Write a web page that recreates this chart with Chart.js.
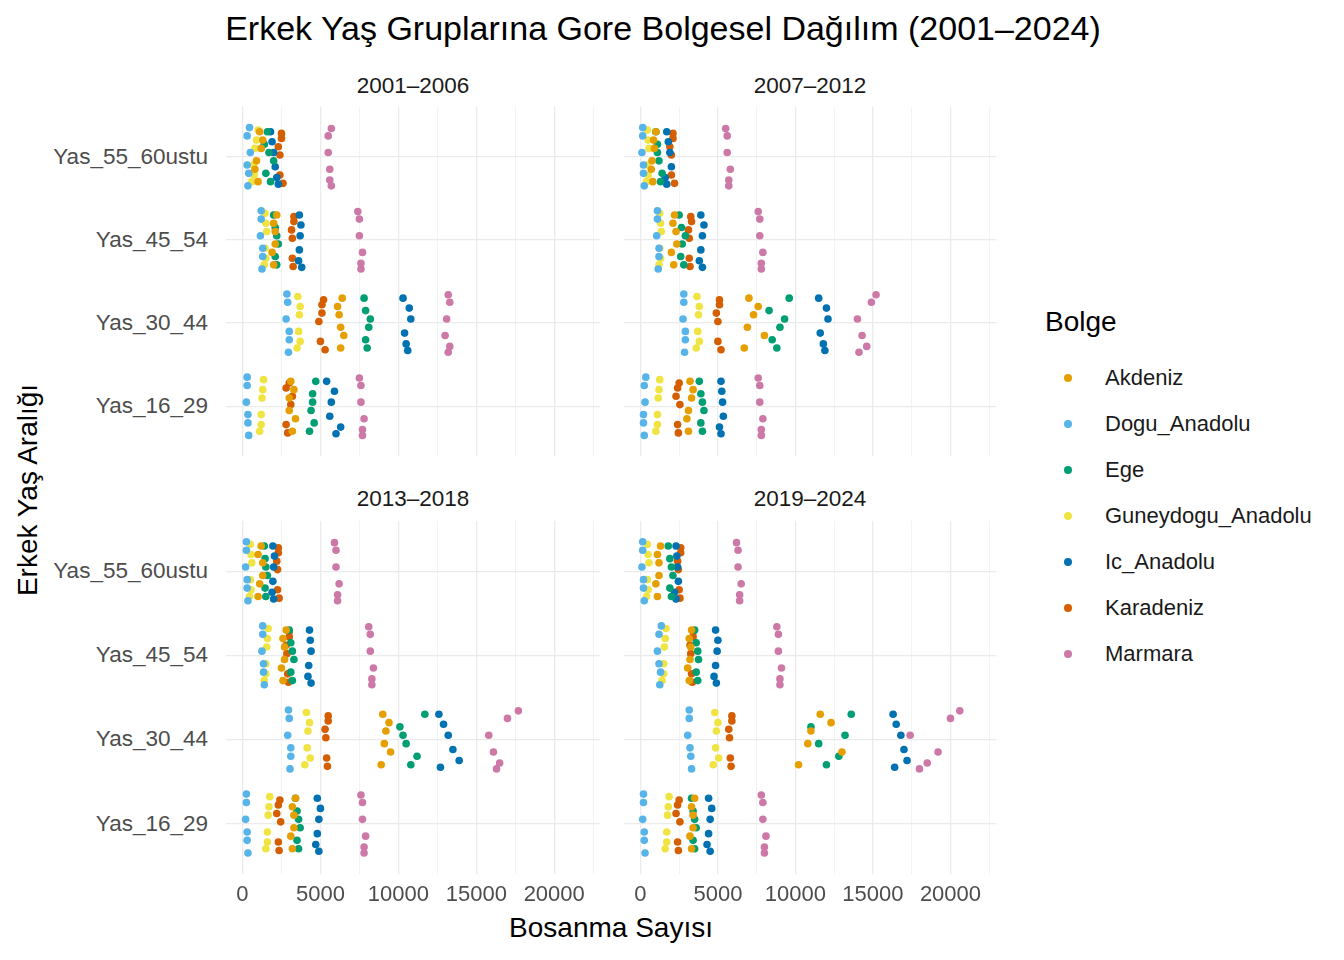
<!DOCTYPE html>
<html>
<head>
<meta charset="utf-8">
<script src="https://cdn.jsdelivr.net/npm/chart.js@4.4.1/dist/chart.umd.min.js"></script>
<style>
  body { margin: 0; width: 1344px; height: 960px; background: #fff; font-family: Arial, "Liberation Sans", sans-serif; position: relative; overflow: hidden; }
  .abs { position: absolute; }
  canvas { position: absolute; }
  #title { left: 0; width: 1326px; top: 9px; text-align: center; font-size: 34px; color: #000; }
  .strip { font-size: 22.5px; color: #1a1a1a; text-align: center; }
  .ylab { left: 0; width: 208px; text-align: right; font-size: 22.5px; color: #4D4D4D; transform: translateY(-50%); }
  #ytitle { left: 28px; top: 490px; font-size: 28px; transform: translate(-50%, -50%) rotate(-90deg); white-space: nowrap; }
  #xtitle { left: 222px; width: 778px; top: 912px; text-align: center; font-size: 28px; }
  #legend { left: 1045px; top: 306px; }
  #legend .lt { font-size: 28px; margin-bottom: 17px; }
  #legend .it { height: 46px; display: flex; align-items: center; font-size: 22px; color: #1a1a1a; }
  #legend .dot { width: 8px; height: 8px; border-radius: 50%; margin: 0 33px 0 19px; }
</style>
</head>
<body>
<div id="title" class="abs">Erkek Yaş Gruplarına Gore Bolgesel Dağılım (2001–2024)</div>
<div class="abs strip" style="left:222px;width:382px;top:73px">2001–2006</div>
<div class="abs strip" style="left:620px;width:380px;top:73px">2007–2012</div>
<div class="abs strip" style="left:222px;width:382px;top:486px">2013–2018</div>
<div class="abs strip" style="left:620px;width:380px;top:486px">2019–2024</div>
<div id="ytitle" class="abs">Erkek Yaş Aralığı</div>
<div id="xtitle" class="abs">Bosanma Sayısı</div>
<div id="legend" class="abs"></div>
<div id="ylabels"></div>

<canvas id="c1"></canvas>
<canvas id="c2"></canvas>
<canvas id="c3"></canvas>
<canvas id="c4"></canvas>

<script>
const regions = ['Akdeniz', 'Dogu_Anadolu', 'Ege', 'Guneydogu_Anadolu', 'Ic_Anadolu', 'Karadeniz', 'Marmara'];
const colors = ['#E69F00', '#56B4E9', '#009E73', '#F0E442', '#0072B2', '#D55E00', '#CC79A7'];
const ageGroups = ['Yas_16_29', 'Yas_30_44', 'Yas_45_54', 'Yas_55_60ustu'];
const panelTitles = ['2001–2006', '2007–2012', '2013–2018', '2019–2024'];

// jitter (vertical offsets) per region, one per year in the period
const jitter = [
  [-0.30, 0.10, -0.15, 0.30, 0.20, -0.05],
  [0.25, -0.20, 0.05, -0.35, 0.35, -0.10],
  [0.15, -0.30, 0.30, -0.05, -0.20, 0.05],
  [-0.10, 0.20, -0.30, 0.10, 0.32, -0.22],
  [0.30, 0.05, -0.25, 0.18, -0.12, -0.33],
  [-0.22, 0.28, 0.12, -0.32, 0.02, 0.22],
  [0.05, -0.28, 0.34, -0.15, 0.25, -0.35]
];

// values per region: [Yas_16_29, Yas_30_44, Yas_45_54, Yas_55_60ustu], 6 years each
const p2001 = [
  [[3200, 3000, 3400, 3100, 3300, 3000], [6300, 6200, 6500, 6400, 6100, 6300], [2000, 2100, 1900, 2200, 2000, 2100], [1000, 1200, 800, 1100, 1300, 900]],
  [[300, 350, 250, 400, 300, 350], [2900, 3000, 2800, 2950, 2850, 3000], [1200, 1300, 1150, 1250, 1200, 1300], [300, 400, 500, 350, 450, 300]],
  [[4500, 4300, 4700, 4400, 4600, 4500], [7900, 8000, 7800, 8100, 7900, 8200], [2100, 2200, 2000, 2300, 2100, 2200], [1400, 1800, 1600, 2000, 1500, 1700]],
  [[1200, 1300, 1100, 1250, 1350, 1200], [3600, 3700, 3500, 3650, 3550, 3700], [1450, 1500, 1400, 1550, 1450, 1500], [700, 900, 600, 800, 1000, 750]],
  [[5400, 5700, 6300, 5900, 5600, 6000], [10300, 10800, 10500, 10700, 10400, 10600], [3650, 3700, 3600, 3750, 3650, 3800], [1800, 2000, 2200, 1900, 2100, 2300]],
  [[2800, 3000, 3200, 2900, 3100, 2800], [5000, 5200, 5100, 5300, 4900, 5100], [3200, 3300, 3150, 3250, 3200, 3300], [2400, 2500, 2300, 2600, 2400, 2500]],
  [[7600, 7700, 7500, 7800, 7600, 7700], [13100, 13300, 13200, 13000, 13300, 13200], [7500, 7600, 7400, 7700, 7500, 7600], [5500, 5600, 5700, 5600, 5500, 5700]]
];
const p2007 = [
  [[3100, 3300, 3000, 3200, 3400, 3100], [6700, 7300, 8000, 7000, 7600, 6900], [2150, 2300, 2000, 2200, 2100, 2350], [800, 900, 700, 1000, 850, 750]],
  [[250, 200, 300, 250, 350, 200], [2800, 2900, 2750, 2850, 2800, 2900], [1100, 1200, 1050, 1150, 1100, 1200], [150, 200, 100, 250, 150, 200]],
  [[3900, 4000, 3800, 4100, 3900, 4000], [8300, 8800, 9600, 9000, 8500, 9300], [2650, 2800, 2500, 2700, 2600, 2900], [1100, 1300, 1000, 1200, 1400, 1100]],
  [[1100, 1200, 1000, 1150, 1250, 1100], [3700, 3800, 3600, 3750, 3650, 3800], [1250, 1300, 1200, 1350, 1250, 1300], [450, 500, 400, 550, 450, 500]],
  [[5200, 5300, 5100, 5250, 5350, 5200], [11500, 12100, 11800, 12000, 11600, 11900], [3900, 4000, 3800, 4100, 3900, 4000], [1700, 1900, 1600, 1800, 2000, 1700]],
  [[2400, 2500, 2300, 2450, 2550, 2400], [5000, 5100, 4900, 5200, 5000, 5100], [3150, 3250, 3100, 3200, 3150, 3300], [2000, 2100, 1900, 2200, 2000, 2100]],
  [[7700, 7800, 7600, 7900, 7700, 7800], [14000, 14600, 15200, 14300, 14900, 14100], [7700, 7800, 7600, 7900, 7700, 7800], [5600, 5700, 5500, 5800, 5600, 5700]]
];
const p2013 = [
  [[3200, 3300, 3100, 3400, 3200, 3300], [8900, 9200, 9500, 9000, 9400, 9100], [2600, 2700, 2500, 2800, 2600, 2700], [1000, 1300, 1100, 1200, 1000, 1300]],
  [[250, 300, 200, 350, 250, 300], [3000, 3100, 2900, 3050, 2950, 3100], [1300, 1350, 1250, 1400, 1300, 1350], [250, 300, 200, 350, 250, 300]],
  [[3500, 3600, 3400, 3700, 3500, 3600], [10100, 10800, 11700, 10500, 11200, 10300], [3100, 3200, 3000, 3300, 3100, 3200], [1450, 1500, 1400, 1600, 1450, 1500]],
  [[1600, 1700, 1500, 1650, 1750, 1600], [4150, 4300, 4000, 4200, 4100, 4350], [1500, 1600, 1400, 1550, 1650, 1500], [500, 550, 450, 600, 500, 550]],
  [[4800, 4900, 4700, 5000, 4800, 4900], [12600, 13200, 13900, 12900, 13500, 12700], [4300, 4400, 4200, 4350, 4250, 4400], [1950, 2000, 1900, 2050, 1950, 2000]],
  [[2300, 2400, 2200, 2350, 2450, 2300], [5400, 5500, 5300, 5450, 5350, 5500], [2900, 3000, 2800, 2950, 2850, 3000], [2250, 2300, 2200, 2350, 2250, 2300]],
  [[7700, 7800, 7600, 7900, 7700, 7800], [15800, 16500, 17700, 16100, 17000, 16300], [8200, 8300, 8100, 8400, 8200, 8300], [6000, 6100, 5900, 6200, 6000, 6100]]
];
const p2019 = [
  [[3300, 3400, 3200, 3500, 3300, 3400], [10200, 11000, 13000, 11600, 12300, 10800], [3150, 3250, 3050, 3300, 3150, 3200], [1100, 1200, 1000, 1300, 1100, 1200]],
  [[200, 250, 150, 300, 200, 250], [3150, 3250, 3050, 3300, 3150, 3200], [1200, 1300, 1100, 1250, 1350, 1200], [150, 200, 100, 250, 150, 200]],
  [[3400, 3500, 3300, 3600, 3400, 3500], [11000, 12000, 13600, 11500, 12800, 13200], [3600, 3700, 3500, 3750, 3600, 3700], [1900, 2000, 1800, 2100, 1900, 2000]],
  [[1700, 1800, 1600, 1750, 1850, 1700], [4850, 5000, 4700, 4900, 4800, 5050], [1500, 1600, 1400, 1550, 1650, 1500], [450, 500, 400, 550, 450, 500]],
  [[4400, 4500, 4300, 4600, 4400, 4500], [16300, 16800, 17200, 16500, 17000, 16400], [4850, 4950, 4750, 5000, 4850, 4900], [2300, 2400, 2200, 2350, 2450, 2300]],
  [[2400, 2500, 2300, 2450, 2550, 2400], [5800, 5900, 5700, 5850, 5750, 5900], [3300, 3400, 3200, 3350, 3250, 3400], [2500, 2600, 2400, 2550, 2450, 2600]],
  [[7900, 8000, 7800, 8100, 7900, 8000], [17400, 18500, 20600, 19200, 20000, 18000], [8900, 9000, 8800, 9100, 8900, 9000], [6300, 6400, 6200, 6500, 6300, 6400]]
];
const panels = [p2001, p2007, p2013, p2019];

const legend = document.getElementById('legend');
legend.innerHTML = '<div class="lt">Bolge</div>' + regions.map((r, i) =>
  `<div class="it"><span class="dot" style="background:${colors[i]}"></span>${r}</div>`).join('');

function buildDatasets(panel) {
  return regions.map((r, ri) => {
    const pts = [];
    panel[ri].forEach((vals, ai) => {
      vals.forEach((v, yi) => pts.push({ x: v, y: ai + 1 + jitter[ri][yi] }));
    });
    return { label: r, data: pts, backgroundColor: colors[ri], borderWidth: 0, pointRadius: 3.8, pointHoverRadius: 3.8 };
  });
}

// canvas geometry for the four facets
const layout = [
  { id: 'c1', left: 222, top: 103, w: 382, h: 357, yAxis: true, xAxis: false },
  { id: 'c2', left: 620, top: 103, w: 380, h: 357, yAxis: false, xAxis: false },
  { id: 'c3', left: 222, top: 517, w: 382, h: 400, yAxis: true, xAxis: true },
  { id: 'c4', left: 620, top: 517, w: 380, h: 400, yAxis: false, xAxis: true }
];

// y category labels for the left facets, placed on the scale's own pixels
const ylabels = document.getElementById('ylabels');

layout.forEach((L, pi) => {
  const cv = document.getElementById(L.id);
  cv.style.left = L.left + 'px';
  cv.style.top = L.top + 'px';
  cv.style.width = L.w + 'px';
  cv.style.height = L.h + 'px';
  cv.width = L.w;
  cv.height = L.h;
  const chart = new Chart(cv, {
    type: 'scatter',
    data: { datasets: buildDatasets(panels[pi]) },
    options: {
      responsive: false,
      animation: false,
      layout: { padding: 0 },
      plugins: { legend: { display: false }, tooltip: { enabled: false } },
      scales: {
        x: {
          type: 'linear',
          min: -1070,
          max: 22950,
          border: { display: false },
          afterBuildTicks: (ax) => {
            const t = [];
            for (let v = 0; v <= 22500; v += 2500) t.push({ value: v });
            ax.ticks = t;
          },
          afterFit: (ax) => { ax.height = L.xAxis ? 43 : 0; },
          grid: {
            drawTicks: false,
            color: '#EBEBEB',
            lineWidth: (ctx) => (ctx.tick && ctx.tick.value % 5000 === 0 ? 1.3 : 0.6)
          },
          ticks: {
            display: L.xAxis,
            autoSkip: false,
            maxRotation: 0,
            padding: 8,
            color: '#4D4D4D',
            font: { size: 22, family: 'Arial, "Liberation Sans", sans-serif' },
            callback: (v) => (v % 5000 === 0 && v <= 20000 ? String(v) : '')
          }
        },
        y: {
          type: 'linear',
          min: 0.4,
          max: 4.6,
          border: { display: false },
          afterBuildTicks: (ax) => { ax.ticks = [1, 2, 3, 4].map((v) => ({ value: v })); },
          afterFit: (ax) => { ax.width = 0; },
          grid: { drawTicks: false, color: '#EBEBEB', lineWidth: 1.3 },
          ticks: { display: false }
        }
      }
    }
  });
  if (L.yAxis) {
    ageGroups.forEach((g, i) => {
      const d = document.createElement('div');
      d.className = 'abs ylab';
      d.style.top = (L.top + chart.scales.y.getPixelForValue(i + 1)) + 'px';
      d.textContent = g;
      ylabels.appendChild(d);
    });
  }
});
</script>
</body>
</html>
